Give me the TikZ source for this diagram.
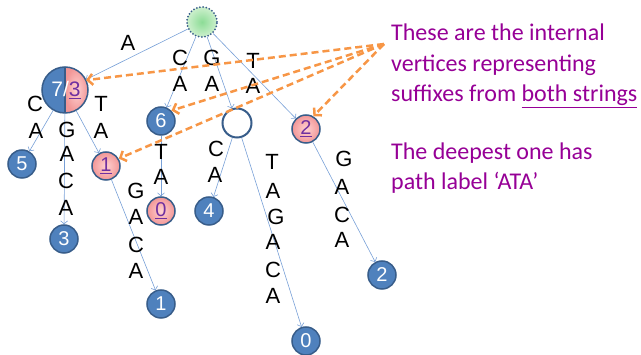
\documentclass[tikz,border=0pt]{standalone}
\usepackage{fontspec}
\setmainfont{Liberation Sans}
\newfontfamily\calib{Carlito}
\usetikzlibrary{arrows.meta}
\definecolor{nodeblue}{RGB}{79,129,189}
\definecolor{nodeborder}{RGB}{56,93,138}
\definecolor{edgeblue}{RGB}{120,160,215}
\definecolor{pinkin}{RGB}{255,210,210}
\definecolor{pinkout}{RGB}{242,150,150}
\definecolor{linkpurple}{RGB}{112,48,160}
\definecolor{textpurple}{RGB}{150,0,150}
\definecolor{arroworange}{RGB}{247,150,70}
\definecolor{greenin}{RGB}{140,220,150}
\definecolor{greenout}{RGB}{205,240,205}
\begin{document}
\begin{tikzpicture}[x=1pt,y=1pt,
 leaf/.style={circle, minimum size=28pt, inner sep=0pt, fill=nodeblue, draw=nodeborder, line width=1.5pt, text=white, font=\fontsize{20}{20}\selectfont},
 pinkleaf/.style={leaf, inner color=pinkin, outer color=pinkout, text=linkpurple},
 hollow/.style={circle, minimum size=29pt, inner sep=0pt, draw=nodeborder, line width=2pt, fill=white},
 rootnode/.style={circle, minimum size=30pt, inner sep=0pt, draw=nodeborder, line width=2pt, line cap=round, dash pattern=on 0pt off 3.2pt, inner color=greenin, outer color=greenout},
 edge/.style={draw=edgeblue, line width=0.6pt, -{Straight Barb[length=3pt,width=7pt]}},
 lab/.style={font=\fontsize{22}{22}\selectfont, inner sep=0pt},
 pointer/.style={draw=arroworange, line width=2.5pt, dash pattern=on 7pt off 4pt, -{Straight Barb[length=5pt,width=11pt]}},
 note/.style={font=\calib\fontsize{24}{24}\selectfont, text=textpurple, anchor=base west, inner sep=0pt},
]
\useasboundingbox (0,0) rectangle (641,-355);

% nodes
\node[rootnode] (root) at (202,-22) {};
\node[circle, minimum size=46pt, inner sep=0pt] (n73) at (65,-90) {};
\fill[nodeblue] (65,-67) arc (90:270:23) -- cycle;
\shade[inner color=pinkin, outer color=pinkout] (65,-113) arc (-90:90:23) -- cycle;
\draw[nodeborder, line width=1.5pt] (65,-90) circle (23);
\draw[nodeborder, line width=1.5pt] (65,-67) -- (65,-113);
\node[font=\fontsize{21}{21}\selectfont, text=white, inner sep=0pt] at (66,-90) {7/\textcolor{linkpurple}{\underline{3}}};

\node[leaf] (n6) at (161,-121) {6};
\node[hollow] (nx) at (237,-123) {};
\node[pinkleaf] (p2) at (306,-129) {\underline{2}};
\node[leaf] (n5) at (22,-164) {5};
\node[pinkleaf] (p1) at (106,-166) {\underline{1}};
\node[leaf] (n3) at (64,-239) {3};
\node[pinkleaf] (p0) at (161,-211) {\underline{0}};
\node[leaf] (n4) at (209,-211) {4};
\node[leaf] (b1) at (161,-304) {1};
\node[leaf] (b0) at (306,-341) {0};
\node[leaf] (b2) at (382,-275) {2};

% tree edges
\draw[edge] (root) -- (n73);
\draw[edge] (root) -- (n6);
\draw[edge] (root) -- (nx);
\draw[edge] (root) -- (p2);
\draw[edge] (n73) -- (n5);
\draw[edge] (n73) -- (n3);
\draw[edge] (n73) -- (p1);
\draw[edge] (n6) -- (p0);
\draw[edge] (p1) -- (b1);
\draw[edge] (nx) -- (n4);
\draw[edge] (nx) -- (b0);
\draw[edge] (p2) -- (b2);

% edge labels
\node[lab] at (128,-43) {A};
\node[lab] at (180,-58) {C};
\node[lab] at (180,-84) {A};
\node[lab] at (212,-58) {G};
\node[lab] at (212,-84) {A};
\node[lab] at (253,-61) {T};
\node[lab] at (253,-86) {A};

\node[lab] at (35,-104) {C};
\node[lab] at (36,-131) {A};
\node[lab] at (67,-130) {G};
\node[lab] at (67,-154) {A};
\node[lab] at (66,-181) {C};
\node[lab] at (66,-208) {A};
\node[lab] at (101,-104) {T};
\node[lab] at (101,-131) {A};

\node[lab] at (161,-152) {T};
\node[lab] at (161,-177) {A};

\node[lab] at (136,-191) {G};
\node[lab] at (136,-217) {A};
\node[lab] at (136,-245) {C};
\node[lab] at (136,-271) {A};

\node[lab] at (216,-149) {C};
\node[lab] at (215,-175) {A};

\node[lab] at (272,-162) {T};
\node[lab] at (273,-191) {A};
\node[lab] at (276,-217) {G};
\node[lab] at (273,-242) {A};
\node[lab] at (273,-270) {C};
\node[lab] at (273,-296) {A};

\node[lab] at (344,-159) {G};
\node[lab] at (342,-187) {A};
\node[lab] at (342,-215) {C};
\node[lab] at (342,-240) {A};

% orange pointers
\coordinate (src) at (384,-44);
\draw[pointer] (src) -- (n73.25);
\draw[pointer] (src) -- (n6.45);
\draw[pointer] (src) -- (p1.30);
\draw[pointer] (src) -- (p2.60);

% notes
\node[note] (t1) at (391,-41) {These are the internal};
\node[note] (t2) at (391,-72) {vertices representing};
\node[note] (t3) at (391,-102) {suffixes from \underline{both strings}};
\node[note] (t4) at (391,-160) {The deepest one has};
\node[note] (t5) at (391,-190) {path label ‘ATA’};
\end{tikzpicture}
\end{document}
